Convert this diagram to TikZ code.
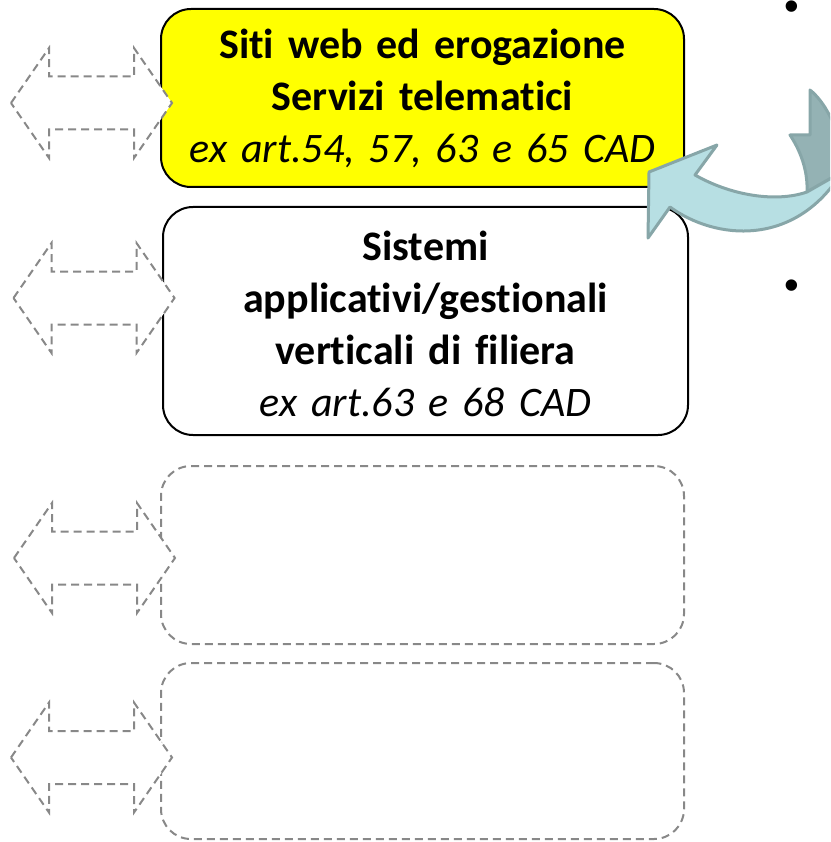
\documentclass[tikz,border=0pt]{standalone}
\usepackage{fontspec}
\setmainfont{Carlito}[Ligatures=NoCommon]
\newfontfamily\bulletfont{Liberation Sans}
\definecolor{boxyellow}{HTML}{FFFF00}
\definecolor{ghostgray}{HTML}{888888}
\definecolor{ribbonlight}{HTML}{B7DFE3}
\definecolor{ribbondark}{HTML}{94B2B4}
\definecolor{ribbonedge}{HTML}{87A6A8}
\tikzset{
  card/.style={rectangle, rounded corners=30pt, line width=2pt, inner sep=0pt,
    align=center, text width=510pt, font=\fontsize{42}{52}\selectfont},
  solidcard/.style={card, draw=black},
  ghostcard/.style={card, draw=ghostgray, dash pattern=on 8pt off 5pt},
  ghostarrow/.style={draw=ghostgray, fill=white, line width=2pt,
    dash pattern=on 8pt off 5pt, line join=miter},
  dblarrow/.pic={
    \path[ghostarrow] (-80.5,0) -- (-42.5,-55) -- (-42.5,-26.5) -- (42.5,-26.5)
      -- (42.5,-55) -- (80.5,0) -- (42.5,55) -- (42.5,26.5) -- (-42.5,26.5)
      -- (-42.5,55) -- cycle;
  },
  ribbon/.style={draw=ribbonedge, line width=3pt, line join=round},
  bulletmark/.style={inner sep=0pt, font=\bulletfont\fontsize{42}{42}\selectfont}
}
\begin{document}
\begin{tikzpicture}[x=1pt,y=-1pt]
\useasboundingbox (0,0) rectangle (830,842);

% the four cards
\node[solidcard, fill=boxyellow, minimum width=523pt, minimum height=178pt] (web) at (422.5,98)
  {\textbf{Siti web ed erogazione}\\\textbf{Servizi telematici}\\\textit{ex art.54, 57, 63 e 65 CAD}};
\node[solidcard, fill=white, minimum width=525pt, minimum height=228pt] (app) at (425.5,321)
  {\rule{0pt}{36pt}\textbf{Sistemi}\\\textbf{applicativi/gestionali}\\\textbf{verticali di filiera}\\\textit{ex art.63 e 68 CAD}};
\node[ghostcard, minimum width=523pt, minimum height=178pt] (slotA) at (422.5,555) {};
\node[ghostcard, minimum width=523pt, minimum height=176pt] (slotB) at (422.5,751) {};

% dashed double arrows on the left
\pic at (91.5,103) {dblarrow};
\pic at (94,298) {dblarrow};
\pic at (94.5,558) {dblarrow};
\pic at (91.5,757.5) {dblarrow};

% curved ribbon arrow on the right
\begin{scope}
\clip (0,0) rectangle (830,842);
\path[ribbon, fill=ribbondark] (810,90) -- (810,135) -- (790,135)
  .. controls (800,150) and (808,170) .. (807,192) -- (842,172)
  -- (842,150) .. controls (836,125) and (825,102) .. (810,90) -- cycle;
\path[ribbon, fill=ribbonlight] (807,192) .. controls (775,203) and (730,195) .. (695,175)
  -- (717,145) -- (649,172) -- (648,238) -- (670,207)
  .. controls (715,240) and (795,248) .. (842,172) -- cycle;
\end{scope}

% bullets of the text running off to the right
\node[bulletmark] (dotA) at (792,11) {•};
\node[bulletmark] (dotB) at (792,290) {•};
\end{tikzpicture}
\end{document}
